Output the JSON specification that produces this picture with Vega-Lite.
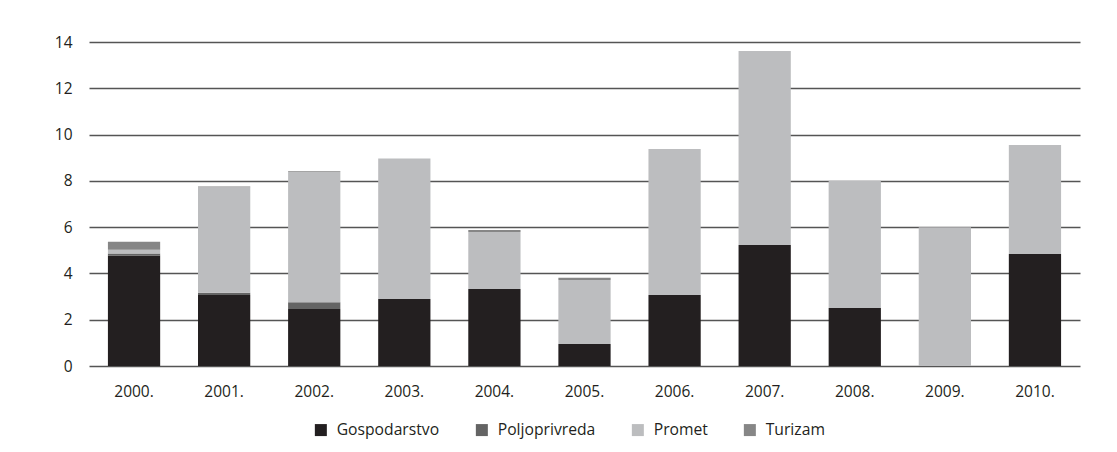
{
  "$schema": "https://vega.github.io/schema/vega-lite/v6.json",
  "width": 991,
  "height": 324,
  "autosize": {"type": "none"},
  "padding": {"left": 89, "top": 42, "right": 37, "bottom": 86},
  "background": "white",
  "config": {
    "view": {"stroke": null},
    "font": "Open Sans",
    "axis": {"labelFont": "Open Sans", "labelFontSize": 15.5, "labelColor": "#231f20"},
    "legend": {"labelFont": "Open Sans", "labelFontSize": 15.7, "labelColor": "#231f20"}
  },
  "data": {
    "values": [
      {"year": "2000.", "sector": "Gospodarstvo", "value": 4.77},
      {"year": "2000.", "sector": "Poljoprivreda", "value": 0.09},
      {"year": "2000.", "sector": "Promet", "value": 0.16},
      {"year": "2000.", "sector": "Turizam", "value": 0.35},
      {"year": "2001.", "sector": "Gospodarstvo", "value": 3.07},
      {"year": "2001.", "sector": "Poljoprivreda", "value": 0.09},
      {"year": "2001.", "sector": "Promet", "value": 4.56},
      {"year": "2001.", "sector": "Turizam", "value": 0.04},
      {"year": "2002.", "sector": "Gospodarstvo", "value": 2.46},
      {"year": "2002.", "sector": "Poljoprivreda", "value": 0.3},
      {"year": "2002.", "sector": "Promet", "value": 5.62},
      {"year": "2002.", "sector": "Turizam", "value": 0.03},
      {"year": "2003.", "sector": "Gospodarstvo", "value": 2.9},
      {"year": "2003.", "sector": "Poljoprivreda", "value": 0},
      {"year": "2003.", "sector": "Promet", "value": 6.07},
      {"year": "2003.", "sector": "Turizam", "value": 0},
      {"year": "2004.", "sector": "Gospodarstvo", "value": 3.33},
      {"year": "2004.", "sector": "Poljoprivreda", "value": 0},
      {"year": "2004.", "sector": "Promet", "value": 2.46},
      {"year": "2004.", "sector": "Turizam", "value": 0.09},
      {"year": "2005.", "sector": "Gospodarstvo", "value": 0.95},
      {"year": "2005.", "sector": "Poljoprivreda", "value": 0},
      {"year": "2005.", "sector": "Promet", "value": 2.77},
      {"year": "2005.", "sector": "Turizam", "value": 0.09},
      {"year": "2006.", "sector": "Gospodarstvo", "value": 3.07},
      {"year": "2006.", "sector": "Poljoprivreda", "value": 0},
      {"year": "2006.", "sector": "Promet", "value": 6.31},
      {"year": "2006.", "sector": "Turizam", "value": 0},
      {"year": "2007.", "sector": "Gospodarstvo", "value": 5.23},
      {"year": "2007.", "sector": "Poljoprivreda", "value": 0},
      {"year": "2007.", "sector": "Promet", "value": 8.38},
      {"year": "2007.", "sector": "Turizam", "value": 0},
      {"year": "2008.", "sector": "Gospodarstvo", "value": 2.51},
      {"year": "2008.", "sector": "Poljoprivreda", "value": 0},
      {"year": "2008.", "sector": "Promet", "value": 5.49},
      {"year": "2008.", "sector": "Turizam", "value": 0},
      {"year": "2009.", "sector": "Gospodarstvo", "value": 0},
      {"year": "2009.", "sector": "Poljoprivreda", "value": 0},
      {"year": "2009.", "sector": "Promet", "value": 6.0},
      {"year": "2009.", "sector": "Turizam", "value": 0},
      {"year": "2010.", "sector": "Gospodarstvo", "value": 4.84},
      {"year": "2010.", "sector": "Poljoprivreda", "value": 0},
      {"year": "2010.", "sector": "Promet", "value": 4.71},
      {"year": "2010.", "sector": "Turizam", "value": 0}
    ]
  },
  "mark": {"type": "bar"},
  "encoding": {
    "x": {
      "field": "year",
      "type": "nominal",
      "sort": null,
      "scale": {"paddingInner": 0.42, "paddingOuter": 0.21},
      "axis": {"title": null, "labelAngle": 0, "domain": false, "ticks": false, "labelPadding": 18, "grid": false}
    },
    "y": {
      "field": "value",
      "type": "quantitative",
      "stack": "zero",
      "scale": {"domain": [0, 14], "nice": false},
      "axis": {"title": null, "values": [0, 2, 4, 6, 8, 10, 12, 14], "domain": false, "ticks": false, "labelPadding": 17, "gridColor": "#555555", "gridWidth": 1.3, "gridOpacity": 1}
    },
    "color": {
      "field": "sector",
      "type": "nominal",
      "scale": {
        "domain": ["Gospodarstvo", "Poljoprivreda", "Promet", "Turizam"],
        "range": ["#231f20", "#646464", "#bcbdbf", "#868686"]
      },
      "legend": {
        "title": null,
        "orient": "none",
        "direction": "horizontal",
        "legendX": 224,
        "legendY": 380,
        "symbolType": "square",
        "symbolSize": 144,
        "symbolStrokeWidth": 0,
        "labelOffset": 8,
        "columnPadding": 34
      }
    },
    "order": {"field": "sector", "sort": "ascending"}
  }
}
